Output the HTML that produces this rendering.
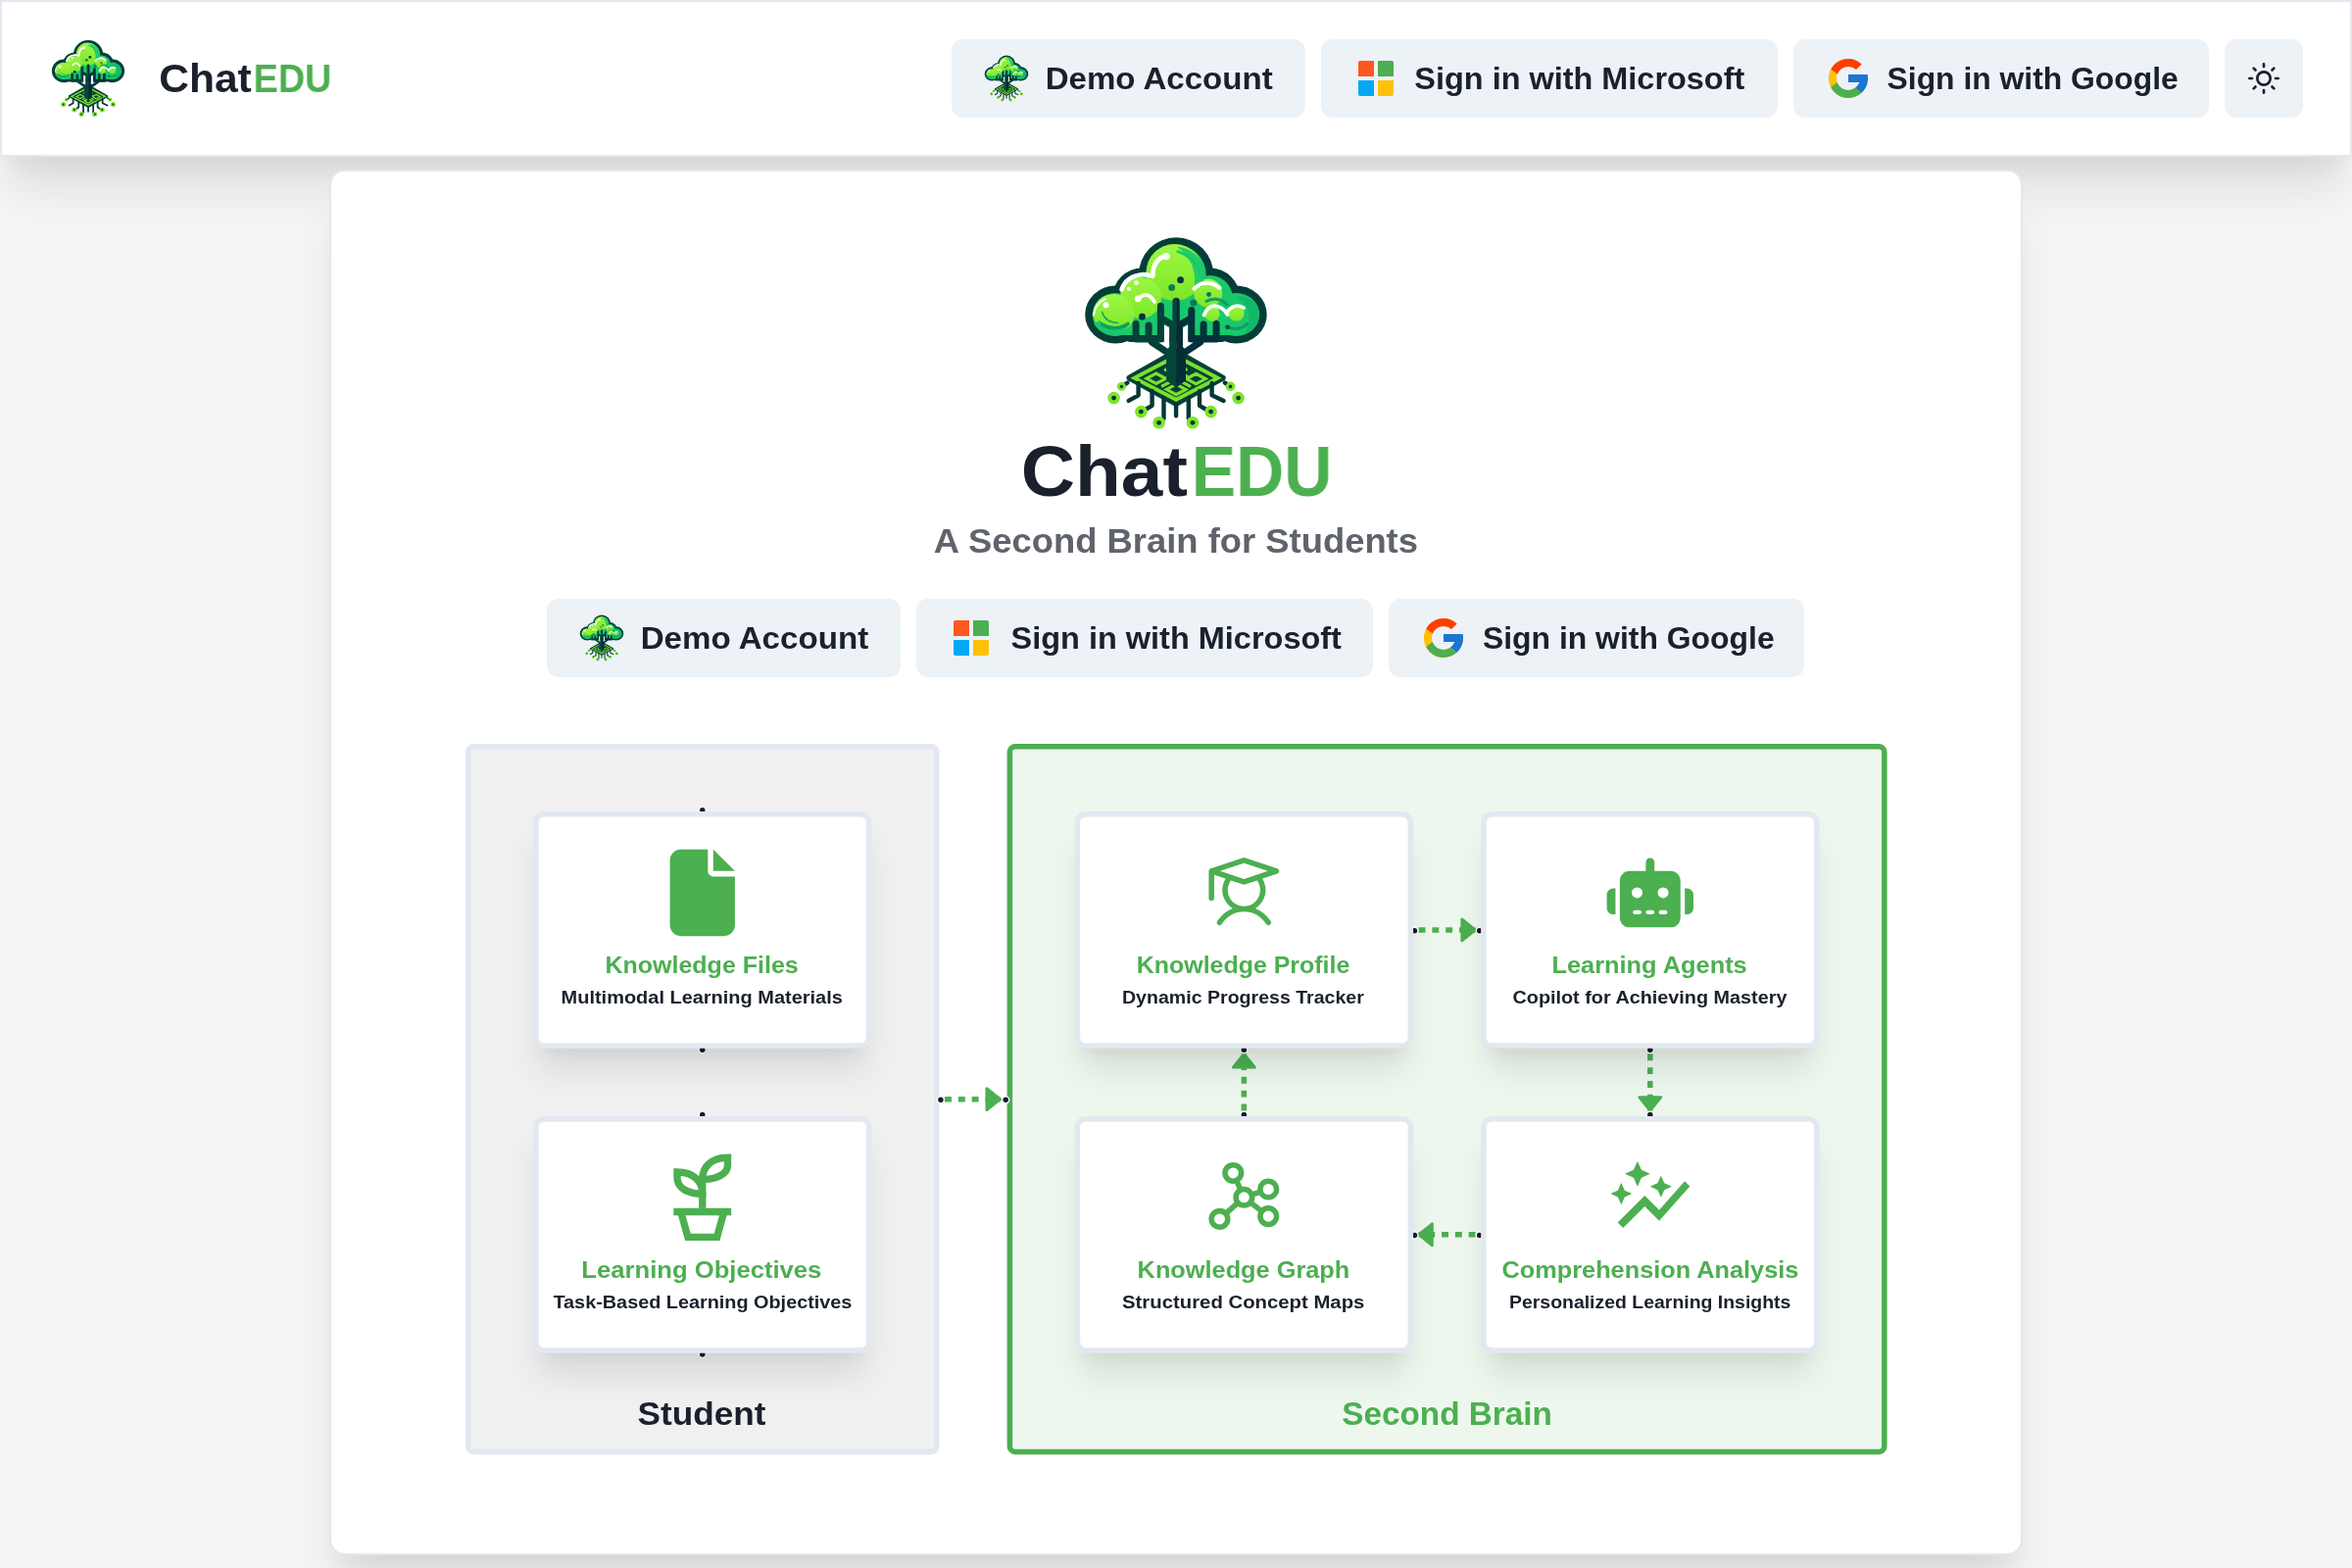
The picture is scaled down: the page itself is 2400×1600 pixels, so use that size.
<!DOCTYPE html>
<html lang="en"><head><meta charset="utf-8"><title>ChatEDU</title>
<style>
*{box-sizing:border-box;margin:0;padding:0}
html,body{width:2400px;height:1600px;overflow:hidden}
@media (max-width:1300px){html{zoom:.5}}
body{background:#f5f5f5;font-family:"Liberation Sans",sans-serif;color:#1a202c;position:relative}
span{white-space:nowrap;display:inline-block;will-change:transform}
.xl{box-shadow:0 40px 50px -10px rgba(0,0,0,.1),0 20px 20px -10px rgba(0,0,0,.04)}
#hdr{position:absolute;left:0;top:0;width:2400px;height:160px;background:#fff;border:2px solid #e2e8f0;z-index:1}
#card{position:absolute;left:336px;top:173px;width:1728px;height:1414px;background:#fff;border:2px solid #e2e8f0;border-radius:16px;z-index:2}
.abs{position:absolute}
.brand{position:absolute;font-weight:700;line-height:1;white-space:nowrap}
.brand b{color:#4caf50;font-weight:700}
.btn{position:absolute;height:80px;background:#edf2f7;border-radius:12px}
.btn .bi,.btn .blogo{position:absolute;left:32px;top:16px;width:48px;height:48px}
.bt{position:absolute;left:96px;top:1px;line-height:80px;font-size:31.3px;font-weight:700;color:#1a202c}
#flow{position:absolute;left:474.7px;top:759.1px;width:1050px;height:525px;transform:scale(1.3815);transform-origin:0 0;z-index:3}
.grp{position:absolute;top:0;height:525px;border:4px solid #e2e8f0;border-radius:6px}
.glabel{position:absolute;left:0;right:0;text-align:center;font-weight:700;font-size:24.45px;line-height:36px;top:473.2px}
.node{position:absolute;width:250px;height:175px;background:#fff;border:4px solid #e2e8f0;border-radius:8px;box-shadow:0 20px 25px -5px rgba(0,0,0,.1),0 10px 10px -5px rgba(0,0,0,.04)}
.ni{position:absolute;left:89px;top:23.5px;width:64px;height:64px;overflow:visible}
.nt{position:absolute;left:-20px;right:-20px;top:96px;text-align:center;font-size:17.6px;line-height:27px;font-weight:700;color:#4caf50}
.ns{position:absolute;left:-20px;right:-20px;top:123.1px;text-align:center;font-size:13.7px;line-height:21px;font-weight:700;color:#1a202c}
.hd{position:absolute;width:6px;height:6px;border-radius:50%;background:#1a192b;border:1px solid #fff}
#edges{position:absolute;left:0;top:0;width:1050px;height:525px;overflow:visible}
</style></head><body>
<div id="hdr" class="xl">
<svg class="abs" style="left:48px;top:38px;width:80px;height:80px" viewBox="10 10 200 200">
<defs><linearGradient id="lg" x1="0" y1="0" x2="0" y2="1"><stop offset="0" stop-color="#9df742"/><stop offset="1" stop-color="#7ce629"/></linearGradient></defs>
<g fill="#053d38">
<circle cx="110.1" cy="50.5" r="38.2"/><circle cx="75.8" cy="74.4" r="30.9"/><ellipse cx="48.3" cy="91" rx="31.1" ry="29.5"/><circle cx="144.5" cy="74.4" r="30.9"/><ellipse cx="171.6" cy="91" rx="31.1" ry="29.5"/>
<rect x="60" y="80" width="100" height="39" rx="3"/>
</g>
<g fill="#19c76c">
<circle cx="110.1" cy="50.5" r="30.7"/><circle cx="75.8" cy="74.4" r="23.4"/><ellipse cx="48.3" cy="91" rx="23.6" ry="22"/><circle cx="144.5" cy="74.4" r="23.4"/><ellipse cx="171.6" cy="91" rx="23.6" ry="22"/>
<rect x="50" y="76" width="120" height="36"/>
</g>
<path d="M171 72a22 20 0 0 1 23 14a24 22 0 0 1-14 25a30 30 0 0 0 1-30Z" fill="#12b96a"/>
<g fill="url(#lg)">
<circle cx="108.5" cy="48" r="29"/><circle cx="74" cy="74" r="21"/><ellipse cx="46.6" cy="90" rx="21" ry="20"/><circle cx="142.7" cy="68.9" r="14.5"/><circle cx="146.9" cy="90.2" r="7.7"/><circle cx="171.6" cy="89.8" r="8"/>
</g>
<path d="M26 100a24 22 0 0 0 30 11l6-10a30 30 0 0 1-30-4Z" fill="#19c76c"/>
<path d="M111 22a29 29 0 0 1 26 40l-9 3a40 40 0 0 0-17-43Z" fill="#19c76c" opacity=".9"/>
<g fill="none" stroke-linecap="round">
<path d="M34.7 101.2Q47.4 108.5 61 100.4" stroke="#0f9e64" stroke-width="3.5"/>
<path d="M34.7 88.5Q37 98.5 50.8 99.5" stroke="#12a868" stroke-width="1.5"/>
<path d="M164.8 104.6Q175.8 107.5 182.6 100.4" stroke="#0f9e64" stroke-width="3"/>
<path d="M141 77.4Q152 71.5 162.2 80.8" stroke="#0f9e64" stroke-width="3"/>
<path d="M111.5 26.5Q130 33 134.5 50" stroke="#19c76c" stroke-width="2.5"/>
</g>
<g fill="none" stroke="#fff" stroke-linecap="round">
<path d="M86.5 51Q86 36 99.5 30.5" stroke-width="4.6"/>
<path d="M54.5 65.5Q59 52 75 50.2Q81 49.8 86 52" stroke-width="4.6"/>
<path d="M72.9 73.8Q81 66.5 88.2 78" stroke-width="3.8"/>
<path d="M128.5 64.5Q140.5 53 154.5 63.8" stroke-width="4.2"/>
<path d="M138.6 91.5Q143 80.5 152 82.5Q159 84.5 162.5 91" stroke-width="3.8"/>
<path d="M162.5 87.5Q170.7 78.5 179.2 84.2" stroke-width="3.6"/>
<path d="M25.9 91.5Q27.5 79.5 38 75" stroke-width="2"/>
</g>
<g fill="#fff"><circle cx="100.1" cy="31.6" r="3.7"/><circle cx="71.2" cy="74.9" r="3.3"/><circle cx="38.5" cy="81.3" r="3"/><circle cx="61.9" cy="64.7" r="2"/><circle cx="69.5" cy="58.7" r="2.4"/></g>
<path d="M97.8 101.5L103.2 104.5V122.8L97.8 119.8ZM122.4 101.5L117 104.5V122.8L122.4 119.8Z" fill="#fff"/>
<circle cx="114.6" cy="55.7" r="3.4" fill="#04373a"/><circle cx="105.7" cy="63.4" r="3.4" fill="#0b7a55"/><circle cx="143.5" cy="70.5" r="2.4" fill="#0a6e5a"/><circle cx="127.8" cy="79.1" r="3.5" fill="#0b7a55"/><circle cx="75.5" cy="93.2" r="3.4" fill="#04303a"/><circle cx="162.6" cy="103.8" r="2.4" fill="#05504a"/>
<g fill="none" stroke-width="7" stroke-linecap="round" stroke-linejoin="round">
<path stroke="#05403a" d="M69.1 100.6V116H94.4V82.2M82.1 102.1V116M85.2 119L100.1 128.9M94.4 94.5L103.6 99.8"/>
<path stroke="#04323a" d="M125.8 86.5V116H151.1V100.6M138.1 101V116M134.9 119L120 128.9M125.8 94.5L116.6 99.8"/>
</g>
<path d="M62.5 155.5L110.1 128.5L157.7 155.5L110.1 181.8Z" fill="#04413a" stroke="#04413a" stroke-width="6" stroke-linejoin="round"/>
<path d="M67.5 155.8L110.1 133.5L152.7 155.8L110.1 177.8Z" fill="none" stroke="#7ddf2b" stroke-width="3.8"/>
<path d="M80 156.2L89.8 151L99.6 156.3L89.8 161.5ZM120.6 156.5L130.4 151.3L140.2 156.6L130.4 161.8ZM100.3 167.3L110.1 162.1L119.9 167.4L110.1 172.6ZM95.1 164.4L107.1 158M113.1 158L125.1 164.6M98.1 146.6L109.3 152.7M109.3 152.7L121.4 146.3M104.1 143.4L110.1 146.7M110.1 140.2L116.1 143.5M113.1 158L122.1 153.2" fill="none" stroke="#7ddf2b" stroke-width="3.2"/>
<path d="M110.1 73.8a3.7 3.7 0 0 0-3.7 3.7V99.5l-3.2 1.8V124l-3.1 3.5V158.5L110.1 165.6Z" fill="#05463b"/>
<path d="M110.1 73.8a3.7 3.7 0 0 1 3.7 3.7V99.5l3.2 1.8V124l3 3.5V158.5L110.1 165.6Z" fill="#062d36"/>
<g fill="none" stroke="#053638" stroke-width="4.4" stroke-linecap="round" stroke-linejoin="round">
<path d="M60.5 160.5L56 163.5M71.6 161V173.3L61.7 178.9M85.6 169V183.8L78.6 188M97.5 176V197M110.1 183V194.3M122.8 176V197M134 169V183.8L141 188M146.6 161V173.3L158.6 178.9M159.8 160.5L164 163.5"/>
</g>
<g fill="#7be528">
<circle cx="54.4" cy="164.4" r="4.5"/><circle cx="46.6" cy="176.1" r="6.3"/><circle cx="74.4" cy="190.1" r="6.3"/><circle cx="92.6" cy="201.3" r="6.3"/><circle cx="127" cy="201.3" r="6.3"/><circle cx="145.6" cy="190.1" r="6.3"/><circle cx="173.6" cy="176.1" r="6.3"/><circle cx="165.6" cy="164.4" r="4.9"/>
</g>
<g fill="#04303a">
<circle cx="54.4" cy="164.4" r="1.7"/><circle cx="46.6" cy="176.1" r="2.4"/><circle cx="74.4" cy="190.1" r="2.4"/><circle cx="92.6" cy="201.3" r="2.4"/><circle cx="127" cy="201.3" r="2.4"/><circle cx="145.6" cy="190.1" r="2.4"/><circle cx="173.6" cy="176.1" r="2.4"/><circle cx="165.6" cy="164.4" r="1.8"/>
</g>
</svg>
<div class="brand" style="left:160.1px;top:58.2px;font-size:40.4px"><span id="hb1" style="position:absolute;left:0;top:0;transform:translate(0.16px,0px) scaleX(1.0538);transform-origin:0 50%;">Chat</span><span id="hb2" style="position:absolute;left:95px;top:0;color:#4caf50;transform:translate(1.6px,0px) scaleX(0.9362);transform-origin:0 50%;">EDU</span></div>
<div class="btn" style="left:969px;top:38px;width:361px"><svg class="blogo" viewBox="10 10 200 200">
<defs><linearGradient id="lg" x1="0" y1="0" x2="0" y2="1"><stop offset="0" stop-color="#9df742"/><stop offset="1" stop-color="#7ce629"/></linearGradient></defs>
<g fill="#053d38">
<circle cx="110.1" cy="50.5" r="38.2"/><circle cx="75.8" cy="74.4" r="30.9"/><ellipse cx="48.3" cy="91" rx="31.1" ry="29.5"/><circle cx="144.5" cy="74.4" r="30.9"/><ellipse cx="171.6" cy="91" rx="31.1" ry="29.5"/>
<rect x="60" y="80" width="100" height="39" rx="3"/>
</g>
<g fill="#19c76c">
<circle cx="110.1" cy="50.5" r="30.7"/><circle cx="75.8" cy="74.4" r="23.4"/><ellipse cx="48.3" cy="91" rx="23.6" ry="22"/><circle cx="144.5" cy="74.4" r="23.4"/><ellipse cx="171.6" cy="91" rx="23.6" ry="22"/>
<rect x="50" y="76" width="120" height="36"/>
</g>
<path d="M171 72a22 20 0 0 1 23 14a24 22 0 0 1-14 25a30 30 0 0 0 1-30Z" fill="#12b96a"/>
<g fill="url(#lg)">
<circle cx="108.5" cy="48" r="29"/><circle cx="74" cy="74" r="21"/><ellipse cx="46.6" cy="90" rx="21" ry="20"/><circle cx="142.7" cy="68.9" r="14.5"/><circle cx="146.9" cy="90.2" r="7.7"/><circle cx="171.6" cy="89.8" r="8"/>
</g>
<path d="M26 100a24 22 0 0 0 30 11l6-10a30 30 0 0 1-30-4Z" fill="#19c76c"/>
<path d="M111 22a29 29 0 0 1 26 40l-9 3a40 40 0 0 0-17-43Z" fill="#19c76c" opacity=".9"/>
<g fill="none" stroke-linecap="round">
<path d="M34.7 101.2Q47.4 108.5 61 100.4" stroke="#0f9e64" stroke-width="3.5"/>
<path d="M34.7 88.5Q37 98.5 50.8 99.5" stroke="#12a868" stroke-width="1.5"/>
<path d="M164.8 104.6Q175.8 107.5 182.6 100.4" stroke="#0f9e64" stroke-width="3"/>
<path d="M141 77.4Q152 71.5 162.2 80.8" stroke="#0f9e64" stroke-width="3"/>
<path d="M111.5 26.5Q130 33 134.5 50" stroke="#19c76c" stroke-width="2.5"/>
</g>
<g fill="none" stroke="#fff" stroke-linecap="round">
<path d="M86.5 51Q86 36 99.5 30.5" stroke-width="4.6"/>
<path d="M54.5 65.5Q59 52 75 50.2Q81 49.8 86 52" stroke-width="4.6"/>
<path d="M72.9 73.8Q81 66.5 88.2 78" stroke-width="3.8"/>
<path d="M128.5 64.5Q140.5 53 154.5 63.8" stroke-width="4.2"/>
<path d="M138.6 91.5Q143 80.5 152 82.5Q159 84.5 162.5 91" stroke-width="3.8"/>
<path d="M162.5 87.5Q170.7 78.5 179.2 84.2" stroke-width="3.6"/>
<path d="M25.9 91.5Q27.5 79.5 38 75" stroke-width="2"/>
</g>
<g fill="#fff"><circle cx="100.1" cy="31.6" r="3.7"/><circle cx="71.2" cy="74.9" r="3.3"/><circle cx="38.5" cy="81.3" r="3"/><circle cx="61.9" cy="64.7" r="2"/><circle cx="69.5" cy="58.7" r="2.4"/></g>
<path d="M97.8 101.5L103.2 104.5V122.8L97.8 119.8ZM122.4 101.5L117 104.5V122.8L122.4 119.8Z" fill="#fff"/>
<circle cx="114.6" cy="55.7" r="3.4" fill="#04373a"/><circle cx="105.7" cy="63.4" r="3.4" fill="#0b7a55"/><circle cx="143.5" cy="70.5" r="2.4" fill="#0a6e5a"/><circle cx="127.8" cy="79.1" r="3.5" fill="#0b7a55"/><circle cx="75.5" cy="93.2" r="3.4" fill="#04303a"/><circle cx="162.6" cy="103.8" r="2.4" fill="#05504a"/>
<g fill="none" stroke-width="7" stroke-linecap="round" stroke-linejoin="round">
<path stroke="#05403a" d="M69.1 100.6V116H94.4V82.2M82.1 102.1V116M85.2 119L100.1 128.9M94.4 94.5L103.6 99.8"/>
<path stroke="#04323a" d="M125.8 86.5V116H151.1V100.6M138.1 101V116M134.9 119L120 128.9M125.8 94.5L116.6 99.8"/>
</g>
<path d="M62.5 155.5L110.1 128.5L157.7 155.5L110.1 181.8Z" fill="#04413a" stroke="#04413a" stroke-width="6" stroke-linejoin="round"/>
<path d="M67.5 155.8L110.1 133.5L152.7 155.8L110.1 177.8Z" fill="none" stroke="#7ddf2b" stroke-width="3.8"/>
<path d="M80 156.2L89.8 151L99.6 156.3L89.8 161.5ZM120.6 156.5L130.4 151.3L140.2 156.6L130.4 161.8ZM100.3 167.3L110.1 162.1L119.9 167.4L110.1 172.6ZM95.1 164.4L107.1 158M113.1 158L125.1 164.6M98.1 146.6L109.3 152.7M109.3 152.7L121.4 146.3M104.1 143.4L110.1 146.7M110.1 140.2L116.1 143.5M113.1 158L122.1 153.2" fill="none" stroke="#7ddf2b" stroke-width="3.2"/>
<path d="M110.1 73.8a3.7 3.7 0 0 0-3.7 3.7V99.5l-3.2 1.8V124l-3.1 3.5V158.5L110.1 165.6Z" fill="#05463b"/>
<path d="M110.1 73.8a3.7 3.7 0 0 1 3.7 3.7V99.5l3.2 1.8V124l3 3.5V158.5L110.1 165.6Z" fill="#062d36"/>
<g fill="none" stroke="#053638" stroke-width="4.4" stroke-linecap="round" stroke-linejoin="round">
<path d="M60.5 160.5L56 163.5M71.6 161V173.3L61.7 178.9M85.6 169V183.8L78.6 188M97.5 176V197M110.1 183V194.3M122.8 176V197M134 169V183.8L141 188M146.6 161V173.3L158.6 178.9M159.8 160.5L164 163.5"/>
</g>
<g fill="#7be528">
<circle cx="54.4" cy="164.4" r="4.5"/><circle cx="46.6" cy="176.1" r="6.3"/><circle cx="74.4" cy="190.1" r="6.3"/><circle cx="92.6" cy="201.3" r="6.3"/><circle cx="127" cy="201.3" r="6.3"/><circle cx="145.6" cy="190.1" r="6.3"/><circle cx="173.6" cy="176.1" r="6.3"/><circle cx="165.6" cy="164.4" r="4.9"/>
</g>
<g fill="#04303a">
<circle cx="54.4" cy="164.4" r="1.7"/><circle cx="46.6" cy="176.1" r="2.4"/><circle cx="74.4" cy="190.1" r="2.4"/><circle cx="92.6" cy="201.3" r="2.4"/><circle cx="127" cy="201.3" r="2.4"/><circle cx="145.6" cy="190.1" r="2.4"/><circle cx="173.6" cy="176.1" r="2.4"/><circle cx="165.6" cy="164.4" r="1.8"/>
</g>
</svg><span class="bt" id="h1" style="transform:translate(-0.32px,0px) scaleX(1.0562);transform-origin:0 50%;">Demo Account</span></div>
<div class="btn" style="left:1346px;top:38px;width:466px"><svg class="bi" viewBox="0 0 48 48"><path fill="#ff5722" d="M6 8a2 2 0 0 1 2-2h14v16H6z"/><path fill="#4caf50" d="M26 6h14a2 2 0 0 1 2 2v14H26z"/><path fill="#03a9f4" d="M6 26h16v16H8a2 2 0 0 1-2-2z"/><path fill="#ffc107" d="M26 26h16v14a2 2 0 0 1-2 2H26z"/></svg><span class="bt" id="h2" style="transform:translate(-0.64px,0px) scaleX(1.0363);transform-origin:0 50%;">Sign in with Microsoft</span></div>
<div class="btn" style="left:1828px;top:38px;width:424px"><svg class="bi" viewBox="0 0 48 48"><path fill="#FFC107" d="M43.611,20.083H42V20H24v8h11.303c-1.649,4.657-6.08,8-11.303,8c-6.627,0-12-5.373-12-12c0-6.627,5.373-12,12-12c3.059,0,5.842,1.154,7.961,3.039l5.657-5.657C34.046,6.053,29.268,4,24,4C12.955,4,4,12.955,4,24c0,11.045,8.955,20,20,20c11.045,0,20-8.955,20-20C44,22.659,43.862,21.35,43.611,20.083z"/><path fill="#FF3D00" d="M6.306,14.691l6.571,4.819C14.655,15.108,18.961,12,24,12c3.059,0,5.842,1.154,7.961,3.039l5.657-5.657C34.046,6.053,29.268,4,24,4C16.318,4,9.656,8.337,6.306,14.691z"/><path fill="#4CAF50" d="M24,44c5.166,0,9.86-1.977,13.409-5.192l-6.19-5.238C29.211,35.091,26.715,36,24,36c-5.202,0-9.619-3.317-11.283-7.946l-6.522,5.025C9.505,39.556,16.227,44,24,44z"/><path fill="#1976D2" d="M43.611,20.083H42V20H24v8h11.303c-0.792,2.237-2.231,4.166-4.087,5.571c0.001-0.001,0.002-0.001,0.003-0.002l6.19,5.238C36.971,39.205,44,34,44,24C44,22.659,43.862,21.35,43.611,20.083z"/></svg><span class="bt" id="h3" style="transform:translate(-0.4px,0px) scaleX(1.0172);transform-origin:0 50%;">Sign in with Google</span></div>
<div class="btn" style="left:2268px;top:38px;width:80px"><svg viewBox="0 0 24 24" style="position:absolute;left:24px;top:24px;width:32px;height:32px"><g stroke-linejoin="round" stroke-linecap="round" stroke-width="2" fill="none" stroke="#1a202c"><circle cx="12" cy="12" r="5"/><path d="M12 1v2M12 21v2M4.22 4.22l1.42 1.42M18.36 18.36l1.42 1.42M1 12h2M21 12h2M4.22 19.78l1.42-1.42M18.36 5.64l1.42-1.42"/></g></svg></div>
</div>
<div id="card" class="xl">
<svg class="abs" style="left:762px;top:65px;width:200px;height:200px" viewBox="10 10 200 200">
<defs><linearGradient id="lg" x1="0" y1="0" x2="0" y2="1"><stop offset="0" stop-color="#9df742"/><stop offset="1" stop-color="#7ce629"/></linearGradient></defs>
<g fill="#053d38">
<circle cx="110.1" cy="50.5" r="38.2"/><circle cx="75.8" cy="74.4" r="30.9"/><ellipse cx="48.3" cy="91" rx="31.1" ry="29.5"/><circle cx="144.5" cy="74.4" r="30.9"/><ellipse cx="171.6" cy="91" rx="31.1" ry="29.5"/>
<rect x="60" y="80" width="100" height="39" rx="3"/>
</g>
<g fill="#19c76c">
<circle cx="110.1" cy="50.5" r="30.7"/><circle cx="75.8" cy="74.4" r="23.4"/><ellipse cx="48.3" cy="91" rx="23.6" ry="22"/><circle cx="144.5" cy="74.4" r="23.4"/><ellipse cx="171.6" cy="91" rx="23.6" ry="22"/>
<rect x="50" y="76" width="120" height="36"/>
</g>
<path d="M171 72a22 20 0 0 1 23 14a24 22 0 0 1-14 25a30 30 0 0 0 1-30Z" fill="#12b96a"/>
<g fill="url(#lg)">
<circle cx="108.5" cy="48" r="29"/><circle cx="74" cy="74" r="21"/><ellipse cx="46.6" cy="90" rx="21" ry="20"/><circle cx="142.7" cy="68.9" r="14.5"/><circle cx="146.9" cy="90.2" r="7.7"/><circle cx="171.6" cy="89.8" r="8"/>
</g>
<path d="M26 100a24 22 0 0 0 30 11l6-10a30 30 0 0 1-30-4Z" fill="#19c76c"/>
<path d="M111 22a29 29 0 0 1 26 40l-9 3a40 40 0 0 0-17-43Z" fill="#19c76c" opacity=".9"/>
<g fill="none" stroke-linecap="round">
<path d="M34.7 101.2Q47.4 108.5 61 100.4" stroke="#0f9e64" stroke-width="3.5"/>
<path d="M34.7 88.5Q37 98.5 50.8 99.5" stroke="#12a868" stroke-width="1.5"/>
<path d="M164.8 104.6Q175.8 107.5 182.6 100.4" stroke="#0f9e64" stroke-width="3"/>
<path d="M141 77.4Q152 71.5 162.2 80.8" stroke="#0f9e64" stroke-width="3"/>
<path d="M111.5 26.5Q130 33 134.5 50" stroke="#19c76c" stroke-width="2.5"/>
</g>
<g fill="none" stroke="#fff" stroke-linecap="round">
<path d="M86.5 51Q86 36 99.5 30.5" stroke-width="4.6"/>
<path d="M54.5 65.5Q59 52 75 50.2Q81 49.8 86 52" stroke-width="4.6"/>
<path d="M72.9 73.8Q81 66.5 88.2 78" stroke-width="3.8"/>
<path d="M128.5 64.5Q140.5 53 154.5 63.8" stroke-width="4.2"/>
<path d="M138.6 91.5Q143 80.5 152 82.5Q159 84.5 162.5 91" stroke-width="3.8"/>
<path d="M162.5 87.5Q170.7 78.5 179.2 84.2" stroke-width="3.6"/>
<path d="M25.9 91.5Q27.5 79.5 38 75" stroke-width="2"/>
</g>
<g fill="#fff"><circle cx="100.1" cy="31.6" r="3.7"/><circle cx="71.2" cy="74.9" r="3.3"/><circle cx="38.5" cy="81.3" r="3"/><circle cx="61.9" cy="64.7" r="2"/><circle cx="69.5" cy="58.7" r="2.4"/></g>
<path d="M97.8 101.5L103.2 104.5V122.8L97.8 119.8ZM122.4 101.5L117 104.5V122.8L122.4 119.8Z" fill="#fff"/>
<circle cx="114.6" cy="55.7" r="3.4" fill="#04373a"/><circle cx="105.7" cy="63.4" r="3.4" fill="#0b7a55"/><circle cx="143.5" cy="70.5" r="2.4" fill="#0a6e5a"/><circle cx="127.8" cy="79.1" r="3.5" fill="#0b7a55"/><circle cx="75.5" cy="93.2" r="3.4" fill="#04303a"/><circle cx="162.6" cy="103.8" r="2.4" fill="#05504a"/>
<g fill="none" stroke-width="7" stroke-linecap="round" stroke-linejoin="round">
<path stroke="#05403a" d="M69.1 100.6V116H94.4V82.2M82.1 102.1V116M85.2 119L100.1 128.9M94.4 94.5L103.6 99.8"/>
<path stroke="#04323a" d="M125.8 86.5V116H151.1V100.6M138.1 101V116M134.9 119L120 128.9M125.8 94.5L116.6 99.8"/>
</g>
<path d="M62.5 155.5L110.1 128.5L157.7 155.5L110.1 181.8Z" fill="#04413a" stroke="#04413a" stroke-width="6" stroke-linejoin="round"/>
<path d="M67.5 155.8L110.1 133.5L152.7 155.8L110.1 177.8Z" fill="none" stroke="#7ddf2b" stroke-width="3.8"/>
<path d="M80 156.2L89.8 151L99.6 156.3L89.8 161.5ZM120.6 156.5L130.4 151.3L140.2 156.6L130.4 161.8ZM100.3 167.3L110.1 162.1L119.9 167.4L110.1 172.6ZM95.1 164.4L107.1 158M113.1 158L125.1 164.6M98.1 146.6L109.3 152.7M109.3 152.7L121.4 146.3M104.1 143.4L110.1 146.7M110.1 140.2L116.1 143.5M113.1 158L122.1 153.2" fill="none" stroke="#7ddf2b" stroke-width="3.2"/>
<path d="M110.1 73.8a3.7 3.7 0 0 0-3.7 3.7V99.5l-3.2 1.8V124l-3.1 3.5V158.5L110.1 165.6Z" fill="#05463b"/>
<path d="M110.1 73.8a3.7 3.7 0 0 1 3.7 3.7V99.5l3.2 1.8V124l3 3.5V158.5L110.1 165.6Z" fill="#062d36"/>
<g fill="none" stroke="#053638" stroke-width="4.4" stroke-linecap="round" stroke-linejoin="round">
<path d="M60.5 160.5L56 163.5M71.6 161V173.3L61.7 178.9M85.6 169V183.8L78.6 188M97.5 176V197M110.1 183V194.3M122.8 176V197M134 169V183.8L141 188M146.6 161V173.3L158.6 178.9M159.8 160.5L164 163.5"/>
</g>
<g fill="#7be528">
<circle cx="54.4" cy="164.4" r="4.5"/><circle cx="46.6" cy="176.1" r="6.3"/><circle cx="74.4" cy="190.1" r="6.3"/><circle cx="92.6" cy="201.3" r="6.3"/><circle cx="127" cy="201.3" r="6.3"/><circle cx="145.6" cy="190.1" r="6.3"/><circle cx="173.6" cy="176.1" r="6.3"/><circle cx="165.6" cy="164.4" r="4.9"/>
</g>
<g fill="#04303a">
<circle cx="54.4" cy="164.4" r="1.7"/><circle cx="46.6" cy="176.1" r="2.4"/><circle cx="74.4" cy="190.1" r="2.4"/><circle cx="92.6" cy="201.3" r="2.4"/><circle cx="127" cy="201.3" r="2.4"/><circle cx="145.6" cy="190.1" r="2.4"/><circle cx="173.6" cy="176.1" r="2.4"/><circle cx="165.6" cy="164.4" r="1.8"/>
</g>
</svg>
<div class="brand" style="left:704px;top:270.5px;font-size:71.5px"><span id="tb1" style="position:absolute;left:0;top:0;transform:translate(-0.16px,0px) scaleX(1.0703);transform-origin:0 50%;">Chat</span><span id="tb2" style="position:absolute;left:172px;top:0;color:#4caf50;transform:translate(1.68px,0px) scaleX(0.9521);transform-origin:0 50%;">EDU</span></div>
<div class="brand" style="left:0;width:1724px;text-align:center;top:359.1px;font-size:35.2px;color:#5f636b"><span id="ts" style="transform:translate(0.08px,0px) scaleX(1.0344);">A Second Brain for Students</span></div>
<div class="btn" style="left:220px;top:436px;width:361px"><svg class="blogo" viewBox="10 10 200 200">
<defs><linearGradient id="lg" x1="0" y1="0" x2="0" y2="1"><stop offset="0" stop-color="#9df742"/><stop offset="1" stop-color="#7ce629"/></linearGradient></defs>
<g fill="#053d38">
<circle cx="110.1" cy="50.5" r="38.2"/><circle cx="75.8" cy="74.4" r="30.9"/><ellipse cx="48.3" cy="91" rx="31.1" ry="29.5"/><circle cx="144.5" cy="74.4" r="30.9"/><ellipse cx="171.6" cy="91" rx="31.1" ry="29.5"/>
<rect x="60" y="80" width="100" height="39" rx="3"/>
</g>
<g fill="#19c76c">
<circle cx="110.1" cy="50.5" r="30.7"/><circle cx="75.8" cy="74.4" r="23.4"/><ellipse cx="48.3" cy="91" rx="23.6" ry="22"/><circle cx="144.5" cy="74.4" r="23.4"/><ellipse cx="171.6" cy="91" rx="23.6" ry="22"/>
<rect x="50" y="76" width="120" height="36"/>
</g>
<path d="M171 72a22 20 0 0 1 23 14a24 22 0 0 1-14 25a30 30 0 0 0 1-30Z" fill="#12b96a"/>
<g fill="url(#lg)">
<circle cx="108.5" cy="48" r="29"/><circle cx="74" cy="74" r="21"/><ellipse cx="46.6" cy="90" rx="21" ry="20"/><circle cx="142.7" cy="68.9" r="14.5"/><circle cx="146.9" cy="90.2" r="7.7"/><circle cx="171.6" cy="89.8" r="8"/>
</g>
<path d="M26 100a24 22 0 0 0 30 11l6-10a30 30 0 0 1-30-4Z" fill="#19c76c"/>
<path d="M111 22a29 29 0 0 1 26 40l-9 3a40 40 0 0 0-17-43Z" fill="#19c76c" opacity=".9"/>
<g fill="none" stroke-linecap="round">
<path d="M34.7 101.2Q47.4 108.5 61 100.4" stroke="#0f9e64" stroke-width="3.5"/>
<path d="M34.7 88.5Q37 98.5 50.8 99.5" stroke="#12a868" stroke-width="1.5"/>
<path d="M164.8 104.6Q175.8 107.5 182.6 100.4" stroke="#0f9e64" stroke-width="3"/>
<path d="M141 77.4Q152 71.5 162.2 80.8" stroke="#0f9e64" stroke-width="3"/>
<path d="M111.5 26.5Q130 33 134.5 50" stroke="#19c76c" stroke-width="2.5"/>
</g>
<g fill="none" stroke="#fff" stroke-linecap="round">
<path d="M86.5 51Q86 36 99.5 30.5" stroke-width="4.6"/>
<path d="M54.5 65.5Q59 52 75 50.2Q81 49.8 86 52" stroke-width="4.6"/>
<path d="M72.9 73.8Q81 66.5 88.2 78" stroke-width="3.8"/>
<path d="M128.5 64.5Q140.5 53 154.5 63.8" stroke-width="4.2"/>
<path d="M138.6 91.5Q143 80.5 152 82.5Q159 84.5 162.5 91" stroke-width="3.8"/>
<path d="M162.5 87.5Q170.7 78.5 179.2 84.2" stroke-width="3.6"/>
<path d="M25.9 91.5Q27.5 79.5 38 75" stroke-width="2"/>
</g>
<g fill="#fff"><circle cx="100.1" cy="31.6" r="3.7"/><circle cx="71.2" cy="74.9" r="3.3"/><circle cx="38.5" cy="81.3" r="3"/><circle cx="61.9" cy="64.7" r="2"/><circle cx="69.5" cy="58.7" r="2.4"/></g>
<path d="M97.8 101.5L103.2 104.5V122.8L97.8 119.8ZM122.4 101.5L117 104.5V122.8L122.4 119.8Z" fill="#fff"/>
<circle cx="114.6" cy="55.7" r="3.4" fill="#04373a"/><circle cx="105.7" cy="63.4" r="3.4" fill="#0b7a55"/><circle cx="143.5" cy="70.5" r="2.4" fill="#0a6e5a"/><circle cx="127.8" cy="79.1" r="3.5" fill="#0b7a55"/><circle cx="75.5" cy="93.2" r="3.4" fill="#04303a"/><circle cx="162.6" cy="103.8" r="2.4" fill="#05504a"/>
<g fill="none" stroke-width="7" stroke-linecap="round" stroke-linejoin="round">
<path stroke="#05403a" d="M69.1 100.6V116H94.4V82.2M82.1 102.1V116M85.2 119L100.1 128.9M94.4 94.5L103.6 99.8"/>
<path stroke="#04323a" d="M125.8 86.5V116H151.1V100.6M138.1 101V116M134.9 119L120 128.9M125.8 94.5L116.6 99.8"/>
</g>
<path d="M62.5 155.5L110.1 128.5L157.7 155.5L110.1 181.8Z" fill="#04413a" stroke="#04413a" stroke-width="6" stroke-linejoin="round"/>
<path d="M67.5 155.8L110.1 133.5L152.7 155.8L110.1 177.8Z" fill="none" stroke="#7ddf2b" stroke-width="3.8"/>
<path d="M80 156.2L89.8 151L99.6 156.3L89.8 161.5ZM120.6 156.5L130.4 151.3L140.2 156.6L130.4 161.8ZM100.3 167.3L110.1 162.1L119.9 167.4L110.1 172.6ZM95.1 164.4L107.1 158M113.1 158L125.1 164.6M98.1 146.6L109.3 152.7M109.3 152.7L121.4 146.3M104.1 143.4L110.1 146.7M110.1 140.2L116.1 143.5M113.1 158L122.1 153.2" fill="none" stroke="#7ddf2b" stroke-width="3.2"/>
<path d="M110.1 73.8a3.7 3.7 0 0 0-3.7 3.7V99.5l-3.2 1.8V124l-3.1 3.5V158.5L110.1 165.6Z" fill="#05463b"/>
<path d="M110.1 73.8a3.7 3.7 0 0 1 3.7 3.7V99.5l3.2 1.8V124l3 3.5V158.5L110.1 165.6Z" fill="#062d36"/>
<g fill="none" stroke="#053638" stroke-width="4.4" stroke-linecap="round" stroke-linejoin="round">
<path d="M60.5 160.5L56 163.5M71.6 161V173.3L61.7 178.9M85.6 169V183.8L78.6 188M97.5 176V197M110.1 183V194.3M122.8 176V197M134 169V183.8L141 188M146.6 161V173.3L158.6 178.9M159.8 160.5L164 163.5"/>
</g>
<g fill="#7be528">
<circle cx="54.4" cy="164.4" r="4.5"/><circle cx="46.6" cy="176.1" r="6.3"/><circle cx="74.4" cy="190.1" r="6.3"/><circle cx="92.6" cy="201.3" r="6.3"/><circle cx="127" cy="201.3" r="6.3"/><circle cx="145.6" cy="190.1" r="6.3"/><circle cx="173.6" cy="176.1" r="6.3"/><circle cx="165.6" cy="164.4" r="4.9"/>
</g>
<g fill="#04303a">
<circle cx="54.4" cy="164.4" r="1.7"/><circle cx="46.6" cy="176.1" r="2.4"/><circle cx="74.4" cy="190.1" r="2.4"/><circle cx="92.6" cy="201.3" r="2.4"/><circle cx="127" cy="201.3" r="2.4"/><circle cx="145.6" cy="190.1" r="2.4"/><circle cx="173.6" cy="176.1" r="2.4"/><circle cx="165.6" cy="164.4" r="1.8"/>
</g>
</svg><span class="bt" id="b1" style="transform:translate(-0.32px,0px) scaleX(1.0585);transform-origin:0 50%;">Demo Account</span></div>
<div class="btn" style="left:597px;top:436px;width:466px"><svg class="bi" viewBox="0 0 48 48"><path fill="#ff5722" d="M6 8a2 2 0 0 1 2-2h14v16H6z"/><path fill="#4caf50" d="M26 6h14a2 2 0 0 1 2 2v14H26z"/><path fill="#03a9f4" d="M6 26h16v16H8a2 2 0 0 1-2-2z"/><path fill="#ffc107" d="M26 26h16v14a2 2 0 0 1-2 2H26z"/></svg><span class="bt" id="b2" style="transform:translate(0.48px,0px) scaleX(1.0379);transform-origin:0 50%;">Sign in with Microsoft</span></div>
<div class="btn" style="left:1079px;top:436px;width:424px"><svg class="bi" viewBox="0 0 48 48"><path fill="#FFC107" d="M43.611,20.083H42V20H24v8h11.303c-1.649,4.657-6.08,8-11.303,8c-6.627,0-12-5.373-12-12c0-6.627,5.373-12,12-12c3.059,0,5.842,1.154,7.961,3.039l5.657-5.657C34.046,6.053,29.268,4,24,4C12.955,4,4,12.955,4,24c0,11.045,8.955,20,20,20c11.045,0,20-8.955,20-20C44,22.659,43.862,21.35,43.611,20.083z"/><path fill="#FF3D00" d="M6.306,14.691l6.571,4.819C14.655,15.108,18.961,12,24,12c3.059,0,5.842,1.154,7.961,3.039l5.657-5.657C34.046,6.053,29.268,4,24,4C16.318,4,9.656,8.337,6.306,14.691z"/><path fill="#4CAF50" d="M24,44c5.166,0,9.86-1.977,13.409-5.192l-6.19-5.238C29.211,35.091,26.715,36,24,36c-5.202,0-9.619-3.317-11.283-7.946l-6.522,5.025C9.505,39.556,16.227,44,24,44z"/><path fill="#1976D2" d="M43.611,20.083H42V20H24v8h11.303c-0.792,2.237-2.231,4.166-4.087,5.571c0.001-0.001,0.002-0.001,0.003-0.002l6.19,5.238C36.971,39.205,44,34,44,24C44,22.659,43.862,21.35,43.611,20.083z"/></svg><span class="bt" id="b3" style="transform:translate(-0.08px,0px) scaleX(1.0194);transform-origin:0 50%;">Sign in with Google</span></div>
</div>
<div id="flow">
<div class="grp" style="left:0;width:350px;background:#f0f0f0"><div class="glabel"><span id="gl1" style="transform:translate(-1.042px,0px) scaleX(1.042);">Student</span></div></div>
<div class="grp" style="left:400px;width:650px;background:#edf7ee;border-color:#4caf50"><div class="glabel" style="color:#4caf50"><span id="gl2" style="transform:translate(0.232px,0px) scaleX(0.9868);">Second Brain</span></div></div>
<svg id="edges" viewBox="0 0 1050 525">
<g fill="none" stroke="#4caf50" stroke-width="4" stroke-dasharray="5 5">
<path d="M354 262.5H395"/><path d="M704 137.5H746"/><path d="M875 229V271"/><path d="M746 362.5H704"/><path d="M575 271V229"/>
</g>
<g fill="#4caf50" stroke="#4caf50" stroke-width="2" stroke-linejoin="round">
<path d="M395 262.5L385 254.5V270.5Z"/><path d="M746 137.5L736 129.5V145.5Z"/><path d="M875 271L867 261H883Z"/><path d="M704 362.5L714 354.5V370.5Z"/><path d="M575 229L567 239H583Z"/>
</g>
</svg>
<i class="hd" style="left:172px;top:46px"></i><i class="hd" style="left:172px;top:223px"></i><i class="hd" style="left:172px;top:271px"></i><i class="hd" style="left:172px;top:448px"></i>
<i class="hd" style="left:698px;top:134.5px"></i><i class="hd" style="left:746px;top:134.5px"></i><i class="hd" style="left:872px;top:223px"></i><i class="hd" style="left:872px;top:271px"></i><i class="hd" style="left:746px;top:359.5px"></i><i class="hd" style="left:698px;top:359.5px"></i><i class="hd" style="left:572px;top:271px"></i><i class="hd" style="left:572px;top:223px"></i>
<div class="node" style="left:50px;top:50px"><svg class="ni" viewBox="-64 0 512 512"><path fill="#4caf50" d="M0 64C0 28.7 28.7 0 64 0H224V128c0 17.7 14.3 32 32 32H384V448c0 35.3-28.7 64-64 64H64c-35.3 0-64-28.7-64-64V64zm384 64H256V0L384 128z"/></svg><div class="nt"><span id="n1t" style="transform:translate(-0.898px,0.579px) scaleX(1.0282);">Knowledge Files</span></div><div class="ns"><span id="n1s" style="transform:translate(-0.898px,0px) scaleX(1.0552);">Multimodal Learning Materials</span></div></div>
<div class="node" style="left:50px;top:275px"><svg class="ni" viewBox="0 0 24 24"><g fill="none" stroke="#4caf50" stroke-width="2" stroke-linejoin="miter" stroke-miterlimit="10"><path d="M4 16H20"/><path d="M6.16 16.5L7.96 23H16.04L17.84 16.5"/><path d="M12 15V7"/><path d="M5 5C9.5 5 12 7.5 12 11C8 11 5 9.5 5 6.5Z"/><path d="M19 1C15 1 12 3 12 7C16 7 19 5.5 19 3Z"/></g></svg><div class="nt"><span id="n2t" style="transform:translate(-0.753px,0.579px) scaleX(1.0547);">Learning Objectives</span></div><div class="ns"><span id="n2s" style="transform:translate(-0.116px,0px) scaleX(1.0489);">Task-Based Learning Objectives</span></div></div>
<div class="node" style="left:450px;top:50px"><svg class="ni" viewBox="0 0 256 256"><path fill="#4caf50" d="M226.53,56.41l-96-32a8,8,0,0,0-5.06,0l-96,32A8,8,0,0,0,24,64v80a8,8,0,0,0,16,0V75.1L73.59,86.29a64,64,0,0,0,20.65,88.05c-18,7.06-33.56,19.83-44.94,37.29a8,8,0,1,0,13.4,8.74C77.77,197.25,101.57,184,128,184s50.23,13.25,65.3,36.37a8,8,0,0,0,13.4-8.74c-11.38-17.46-27-30.23-44.94-37.29a64,64,0,0,0,20.65-88l44.12-14.7a8,8,0,0,0,0-15.18ZM176,120A48,48,0,1,1,89.35,91.55l36.12,12a8,8,0,0,0,5.06,0l36.12-12A47.89,47.89,0,0,1,176,120ZM128,87.57,57.3,64,128,40.43,198.7,64Z"/></svg><div class="nt"><span id="n3t" style="transform:translate(-0.318px,0.579px) scaleX(1.0263);">Knowledge Profile</span></div><div class="ns"><span id="n3s" style="transform:translate(-1.042px,0px) scaleX(1.0345);">Dynamic Progress Tracker</span></div></div>
<div class="node" style="left:750px;top:50px"><svg class="ni" viewBox="0 -64 640 640"><path fill="#4caf50" d="M320 0c17.7 0 32 14.3 32 32V96H472c39.8 0 72 32.2 72 72V440c0 39.8-32.2 72-72 72H168c-39.8 0-72-32.2-72-72V168c0-39.8 32.2-72 72-72H288V32c0-17.7 14.3-32 32-32zM208 384c-8.8 0-16 7.2-16 16s7.2 16 16 16h32c8.8 0 16-7.2 16-16s-7.2-16-16-16H208zm96 0c-8.8 0-16 7.2-16 16s7.2 16 16 16h32c8.8 0 16-7.2 16-16s-7.2-16-16-16H304zm96 0c-8.8 0-16 7.2-16 16s7.2 16 16 16h32c8.8 0 16-7.2 16-16s-7.2-16-16-16H400zM264 256a40 40 0 1 0 -80 0 40 40 0 1 0 80 0zm152 40a40 40 0 1 0 0-80 40 40 0 1 0 0 80zM48 224H64V416H48c-26.5 0-48-21.5-48-48V272c0-26.5 21.5-48 48-48zm544 0c26.5 0 48 21.5 48 48v96c0 26.5-21.5 48-48 48H576V224h16z"/></svg><div class="nt"><span id="n4t" style="transform:translate(-0.608px,0.579px) scaleX(1.0443);">Learning Agents</span></div><div class="ns"><span id="n4s" style="transform:translate(0.029px,0px) scaleX(1.0476);">Copilot for Achieving Mastery</span></div></div>
<div class="node" style="left:450px;top:275px"><svg class="ni" viewBox="0 0 256 256"><g fill="none" stroke="#4caf50" stroke-width="16"><circle cx="96" cy="56" r="24"/><circle cx="128" cy="128" r="24"/><circle cx="200" cy="104" r="24"/><circle cx="200" cy="184" r="24"/><circle cx="56" cy="192" r="24"/><path d="M105.7 77.9L118.3 106.1M150.8 120.4L177.2 111.6M146.9 142.7L181.1 169.3M110.1 144L73.9 176"/></g></svg><div class="nt"><span id="n5t" style="transform:translate(-0.579px,0.579px) scaleX(1.0418);">Knowledge Graph</span></div><div class="ns"><span id="n5s" style="transform:translate(-0.753px,0px) scaleX(1.0752);">Structured Concept Maps</span></div></div>
<div class="node" style="left:750px;top:275px"><svg class="ni" viewBox="0 0 24 24"><path fill="#4caf50" d="M14.06 9.94 12 9l2.06-.940L15 6l.940 2.06L18 9l-2.06.940L15 12l-.940-2.06zM4 14l.940-2.06L7 11l-2.06-.940L4 8l-.940 2.06L1 11l2.06.940L4 14zm4.5-5 1.09-2.41L12 5.5 9.59 4.41 8.5 2 7.41 4.41 5 5.5l2.41 1.09L8.5 9zm-4 11.5 6-6.01 4 4L23 8.93l-1.41-1.41-7.09 7.97-4-4L3 19l1.5 1.5z"/></svg><div class="nt"><span id="n6t" style="transform:translate(-0.174px,0.579px) scaleX(1.0415);">Comprehension Analysis</span></div><div class="ns"><span id="n6s" style="transform:translate(-0.261px,0px) scaleX(1.0283);">Personalized Learning Insights</span></div></div>
<i class="hd" style="left:348px;top:259.5px"></i><i class="hd" style="left:396px;top:259.5px"></i>
</div>
</body></html>
